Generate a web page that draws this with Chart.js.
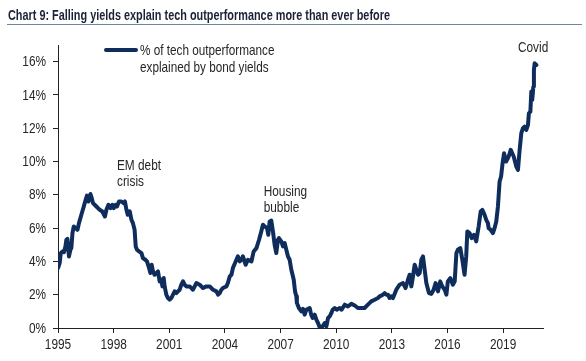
<!DOCTYPE html>
<html>
<head>
<meta charset="utf-8">
<script src="https://cdn.jsdelivr.net/npm/chart.js@4.4.1/dist/chart.umd.min.js"></script>
<style>
  html, body { margin: 0; padding: 0; background: #fff; }
  #wrap { position: relative; width: 586px; height: 361px; overflow: hidden; background: #fff; }
  #chart { position: absolute; left: 0; top: 0; }
  #title { position: absolute; left: 8px; top: 6px; white-space: nowrap;
    font: bold 15px "Liberation Sans", Arial, sans-serif; line-height: 17px;
    color: #1b2236; transform-origin: 0 0; }
  #rule { position: absolute; left: 7px; top: 24px; width: 575px; height: 1px; background: #6d86a3; }
  #legLine { position: absolute; left: 104px; top: 48px; width: 34px; height: 4px; background: #0f2d5c; border-radius: 2px; }
  #legText { position: absolute; left: 140px; top: 42px; white-space: nowrap;
    font: 14.5px "Liberation Sans", Arial, sans-serif; line-height: 17px; color: #262626;
    transform: scaleX(0.81); transform-origin: 0 0; }
</style>
</head>
<body>
<div id="wrap">
  <canvas id="chart" width="586" height="361"></canvas>
  <div id="title">Chart 9: Falling yields explain tech outperformance more than ever before</div>
  <div id="rule"></div>
  <div id="legLine"></div>
  <div id="legText">% of tech outperformance<br>explained by bond yields</div>
</div>
<script>
// ---- data (decimal year, % explained) ----
const years = [
1995.00,1995.09,1995.15,1995.24,1995.32,1995.40,1995.45,1995.51,1995.56,1995.59,1995.67,1995.72,1995.78,1995.85,1995.95,
1996.05,1996.13,1996.26,1996.39,1996.49,1996.56,1996.64,1996.75,1996.82,1996.89,1997.07,1997.25,1997.39,1997.53,1997.61,
1997.72,1997.82,1997.93,1998.00,1998.11,1998.18,1998.29,1998.42,1998.54,1998.61,1998.69,1998.76,1998.87,1998.96,1999.04,
1999.13,1999.19,1999.26,1999.37,1999.50,1999.58,1999.71,1999.80,1999.91,1999.98,2000.05,2000.12,2000.21,2000.30,2000.39,
2000.48,2000.57,2000.63,2000.70,2000.75,2000.84,2000.93,2001.02,2001.11,2001.20,2001.29,2001.38,2001.47,2001.56,2001.65,
2001.74,2001.83,2001.92,2002.10,2002.19,2002.28,2002.46,2002.64,2002.82,2003.00,2003.18,2003.36,2003.54,2003.63,2003.72,
2003.81,2003.89,2004.08,2004.16,2004.26,2004.35,2004.43,2004.62,2004.70,2004.80,2004.89,2004.97,2005.12,2005.24,2005.43,
2005.55,2005.70,2005.84,2005.96,2006.05,2006.14,2006.27,2006.34,2006.41,2006.50,2006.59,2006.68,2006.77,2006.86,2006.91,
2007.04,2007.13,2007.22,2007.31,2007.40,2007.49,2007.58,2007.71,2007.78,2007.85,2007.88,2007.99,2008.12,2008.21,2008.30,
2008.39,2008.48,2008.57,2008.65,2008.73,2008.84,2008.93,2009.02,2009.11,2009.20,2009.29,2009.38,2009.47,2009.56,2009.65,
2009.74,2009.81,2009.92,2010.03,2010.19,2010.29,2010.46,2010.63,2010.82,2011.00,2011.17,2011.36,2011.53,2011.71,2011.89,
2012.07,2012.25,2012.34,2012.52,2012.61,2012.70,2012.79,2012.88,2012.97,2013.06,2013.24,2013.42,2013.60,2013.74,2013.87,
2013.96,2014.05,2014.14,2014.23,2014.32,2014.41,2014.50,2014.59,2014.68,2014.77,2014.86,2015.00,2015.13,2015.25,2015.36,
2015.49,2015.61,2015.72,2015.85,2015.94,2016.02,2016.15,2016.29,2016.39,2016.48,2016.56,2016.69,2016.80,2016.92,2017.01,
2017.07,2017.19,2017.30,2017.43,2017.55,2017.68,2017.79,2017.88,2018.00,2018.09,2018.18,2018.22,2018.33,2018.45,2018.54,
2018.63,2018.72,2018.81,2018.89,2018.97,2019.05,2019.16,2019.30,2019.41,2019.57,2019.71,2019.80,2019.89,2019.98,2020.07,
2020.16,2020.25,2020.34,2020.39,2020.47,2020.52,2020.57,2020.63,2020.66,2020.70,2020.79
];
const values = [
3.6,3.9,4.5,4.6,4.55,4.9,5.3,5.35,4.7,4.3,4.7,4.8,5.7,6.1,6.0,
5.9,6.3,6.8,7.3,7.7,7.95,7.6,8.05,7.8,7.5,7.3,7.1,7.0,6.7,7.1,
7.4,7.2,7.4,7.2,7.4,7.3,7.6,7.6,7.5,7.6,7.1,6.8,7.0,6.5,6.3,
5.9,4.9,4.7,4.6,4.5,4.2,4.1,4.0,3.6,3.3,3.8,3.4,3.2,3.3,3.4,
2.8,2.9,2.5,3.0,2.5,2.0,1.8,1.7,1.8,2.0,2.2,2.1,2.2,2.3,2.6,
2.8,2.6,2.5,2.5,2.4,2.3,2.7,2.6,2.4,2.5,2.5,2.3,2.2,2.0,2.1,
2.3,2.4,2.5,2.7,3.1,3.2,3.6,4.1,4.3,4.0,4.1,4.3,3.8,4.1,4.0,
4.6,4.8,5.3,5.8,6.2,6.1,6.0,5.6,6.4,6.45,5.8,5.0,4.5,5.3,5.4,
5.2,4.9,5.1,4.7,4.3,4.1,3.5,2.9,2.2,1.9,1.5,1.2,1.0,1.15,0.8,
1.1,1.15,1.2,0.8,0.6,0.8,0.5,0.3,0.05,0.0,0.15,0.3,0.1,0.6,0.7,
0.9,1.1,1.2,1.1,1.2,1.1,1.4,1.3,1.45,1.35,1.2,1.2,1.2,1.4,1.6,
1.7,1.8,1.9,2.0,2.1,2.0,2.0,1.8,1.9,1.8,2.3,2.6,2.7,2.4,2.9,
3.2,2.5,3.1,3.8,3.5,3.2,3.3,4.1,4.3,3.5,2.7,2.1,2.05,2.3,2.7,
2.2,2.8,2.5,2.3,2.0,2.8,3.0,2.6,2.8,4.5,4.7,4.8,4.1,3.2,4.3,
5.8,5.7,5.4,5.6,5.2,6.1,7.0,7.1,6.8,6.5,6.3,6.0,5.9,5.7,6.0,
6.4,7.3,8.8,9.1,9.9,10.5,10.0,10.3,10.7,10.3,9.7,9.5,10.7,11.7,12.0,
12.1,11.9,12.2,12.9,13.0,14.2,13.7,14.5,15.5,15.9,15.8
];
const xTickYears = [1995, 1998, 2001, 2004, 2007, 2010, 2013, 2016, 2019];
const yTickValues = [0, 2, 4, 6, 8, 10, 12, 14, 16];
const annotations = [
  { lines: ["EM debt", "crisis"], x: 1998.18, y: 9.74 },
  { lines: ["Housing", "bubble"], x: 2006.09, y: 8.19 },
  { lines: ["Covid"], x: 2019.80, y: 16.8 }
];

const FONT = '"Liberation Sans", Arial, sans-serif';
const NAVY = '#0f2d5c';
const SQUEEZE = 0.8;

function squeezedText(ctx, text, x, y) {
  ctx.save();
  ctx.translate(x, y);
  ctx.scale(SQUEEZE, 1);
  ctx.fillText(text, 0, 0);
  ctx.restore();
}

const textPlugin = {
  id: 'texts',
  afterDraw(chart) {
    const { ctx, scales } = chart;
    ctx.save();
    ctx.font = '14.8px ' + FONT;
    ctx.fillStyle = '#262626';
    // annotations
    ctx.textAlign = 'left';
    ctx.textBaseline = 'middle';
    annotations.forEach(a => {
      const px = scales.x.getPixelForValue(a.x);
      const py = scales.y.getPixelForValue(a.y);
      a.lines.forEach((t, i) => squeezedText(ctx, t, px, py + i * 16.5));
    });
    // y tick labels
    const ys = scales.y;
    ctx.textAlign = 'right';
    ctx.textBaseline = 'middle';
    ys.ticks.forEach(t => {
      squeezedText(ctx, t.value + '%', ys.right - 12, ys.getPixelForValue(t.value) + 0.5);
    });
    // x tick labels
    const xs = scales.x;
    ctx.textAlign = 'center';
    ctx.textBaseline = 'middle';
    xs.ticks.forEach(t => {
      squeezedText(ctx, String(t.value), xs.getPixelForValue(t.value), xs.top + 17);
    });
    ctx.restore();
  }
};

new Chart(document.getElementById('chart'), {
  type: 'line',
  data: {
    datasets: [{
      data: years.map((y, i) => ({ x: y, y: values[i] })),
      borderColor: NAVY,
      borderWidth: 4,
      pointRadius: 0,
      tension: 0,
      borderJoinStyle: 'round',
      borderCapStyle: 'round',
      fill: false
    }]
  },
  options: {
    responsive: false,
    devicePixelRatio: 1,
    animation: false,
    layout: { padding: { left: 0, right: 43, top: 45, bottom: 0 } },
    plugins: { legend: { display: false }, title: { display: false }, tooltip: { enabled: false } },
    scales: {
      x: {
        type: 'linear',
        min: 1995,
        max: 2021.15,
        afterBuildTicks: s => { s.ticks = xTickYears.map(v => ({ value: v })); },
        afterFit: s => { s.height = 33; },
        ticks: { display: false },
        grid: { drawOnChartArea: false, drawTicks: true, tickLength: 5, color: '#222', lineWidth: 1 },
        border: { display: true, color: '#222', width: 1 }
      },
      y: {
        min: 0,
        max: 17,
        afterBuildTicks: s => { s.ticks = yTickValues.map(v => ({ value: v })); },
        afterFit: s => { s.width = 58; },
        ticks: { display: false },
        grid: { drawOnChartArea: false, drawTicks: true, tickLength: 5, color: '#222', lineWidth: 1 },
        border: { display: true, color: '#222', width: 1 }
      }
    }
  },
  plugins: [textPlugin]
});

// fit title to reference width
const t = document.getElementById('title');
const w = t.getBoundingClientRect().width;
t.style.transform = 'scaleX(' + (382 / w).toFixed(3) + ')';
</script>
</body>
</html>
